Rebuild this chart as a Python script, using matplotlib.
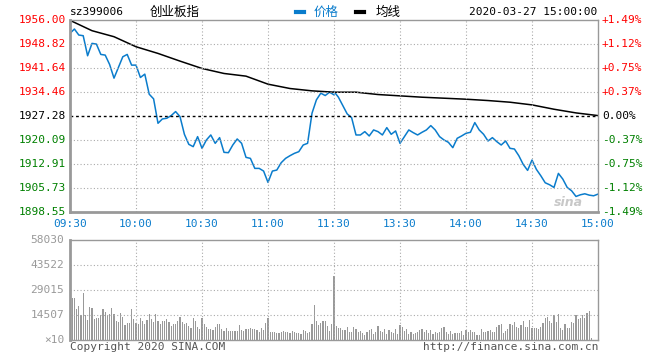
import numpy as np
import matplotlib.pyplot as plt

plt.rcParams['font.family'] = ['DejaVu Sans Mono', 'Noto Sans CJK SC']

# price sampled every 2 minutes (0 = 09:30, 120 = 11:30/13:00, 240 = 15:00)
price_am = [1952.0, 1953.3, 1951.5, 1951.3, 1945.3, 1949.0, 1948.8, 1945.7, 1945.5, 1942.7,
            1938.6, 1941.8, 1945.0, 1945.7, 1942.5, 1942.5, 1938.8, 1939.8, 1933.8, 1932.4,
            1925.1, 1926.4, 1926.6, 1927.4, 1928.6, 1927.1, 1921.8, 1918.8, 1918.1, 1921.1,
            1917.6, 1920.1, 1921.6, 1919.1, 1920.8, 1916.4, 1916.3, 1918.6, 1920.4, 1919.1,
            1914.9, 1914.6, 1911.6, 1911.6, 1910.8, 1907.4, 1910.8, 1911.1, 1913.3, 1914.6,
            1915.4, 1916.1, 1916.6, 1918.6, 1919.1, 1928.1, 1932.1, 1934.1, 1933.4, 1934.4,
            1933.6]
# afternoon from 13:00
price_pm = [1934.6,
            1932.9, 1930.4, 1927.9, 1926.8, 1921.6, 1921.6, 1922.6, 1921.3, 1923.1, 1922.6,
            1921.6, 1923.8, 1921.8, 1922.8, 1919.1, 1921.1, 1923.1, 1922.3, 1921.6, 1922.4,
            1923.1, 1924.4, 1923.1, 1921.1, 1920.1, 1919.4, 1917.8, 1920.6, 1921.3, 1922.1,
            1922.4, 1925.3, 1923.1, 1921.8, 1919.8, 1920.8, 1919.6, 1918.6, 1919.8, 1917.6,
            1917.4, 1915.4, 1912.8, 1911.0, 1914.1, 1911.3, 1909.4, 1907.3, 1906.7, 1905.9,
            1910.1, 1908.4, 1905.9, 1904.9, 1903.2, 1903.7, 1904.0, 1903.6, 1903.4, 1903.9]

# average line, every 10 minutes
avg_line = [1955.9, 1952.8, 1951.0, 1948.0, 1946.0, 1943.7, 1941.5, 1940.0, 1939.2, 1936.8,
            1935.5, 1934.8, 1934.4, 1934.4, 1933.7, 1933.3, 1932.9, 1932.6, 1932.3, 1931.9,
            1931.4, 1930.6, 1929.3, 1928.2, 1927.4]

# volume per minute (x10)
volume = [30400, 24600, 24600, 18000, 19700, 14500, 27300, 14500, 11600, 19200,
          18500, 12200, 12800, 12800, 14500, 18000, 16500, 14500, 15000, 18500,
          15000, 11000, 10500, 15500, 13500, 8800, 10000, 10000, 18000, 12000,
          10000, 9000, 12500, 11000, 9000, 11500, 15000, 12000, 10500, 15000,
          11000, 9000, 11000, 11000, 12000, 10500, 8000, 9000, 9500, 11000,
          13500, 10500, 9000, 10000, 8000, 7000, 13000, 11000, 7500, 6500,
          12500, 9000, 7500, 6500, 6500, 6000, 7500, 9500, 9000, 6500,
          5500, 7000, 5000, 5000, 5000, 5500, 5500, 8500, 6000, 5500,
          6500, 6500, 7000, 6500, 6500, 6000, 4500, 7000, 6000, 10000,
          12900, 4500, 4500, 4500, 4000, 4000, 4500, 5000, 4500, 4500,
          4000, 5500, 4500, 4000, 4000, 3500, 6000, 5000, 4000, 4500,
          9500, 20500, 11000, 8500, 10000, 11000, 11000, 8000, 5000, 9000,
          37300,
          8300, 7200, 6800, 5800, 5800, 7500, 4800, 4400, 7700, 6400,
          4400, 5200, 3900, 2900, 4800, 6000, 6400, 3300, 4800, 8100,
          5200, 4400, 6400, 3300, 5600, 4800, 3900, 6200, 3300, 8700,
          7700, 5200, 6200, 3300, 4400, 3700, 3900, 4400, 5600, 6200,
          4800, 5600, 4200, 5800, 3700, 4800, 4200, 4800, 7200, 7500,
          4800, 3700, 5200, 3300, 3900, 3900, 3900, 5200, 2900, 5600,
          4400, 5600, 4800, 4800, 2900, 2900, 6400, 4800, 4800, 5200,
          5800, 4400, 4400, 7700, 8700, 9100, 3900, 5200, 6200, 9100,
          8700, 10600, 7700, 7200, 8700, 11000, 7700, 7700, 11600, 6800,
          7200, 6800, 6400, 7700, 9700, 12600, 13500, 11000, 9700, 14500,
          10600, 15100, 6800, 5800, 9100, 7200, 7200, 10600, 9700, 14500,
          12200, 12600, 14500, 12600, 15500, 16800, 1000, 0, 0, 0]

time_labels = ['09:30', '10:00', '10:30', '11:00', '11:30', '13:30', '14:00', '14:30', '15:00']
price_ticks = [1956.00, 1948.82, 1941.64, 1934.46, 1927.28, 1920.09, 1912.91, 1905.73, 1898.55]
pct_labels = ['+1.49%', '+1.12%', '+0.75%', '+0.37%', '0.00%',
              '-0.37%', '-0.75%', '-1.12%', '-1.49%']
vol_ticks = [58030, 43522, 29015, 14507]
prev_close = 1927.28

W, H = 660, 360
BLUE = '#0a7ccc'
RED = '#ff0000'
GREEN = '#008000'
GRAY = '#999999'
CJK = ['Noto Sans CJK SC', 'DejaVu Sans']


def fx(px):
    return px / W


def fy(py):
    return 1 - py / H


fig = plt.figure(figsize=(6.6, 3.6), dpi=100)
ax = fig.add_axes([fx(70), fy(212), 528 / W, 192 / H])
axv = fig.add_axes([fx(70), fy(340), 528 / W, 100 / H])

ax.plot(np.arange(0, 121, 2), price_am, color=BLUE, lw=1.1)
ax.plot(np.arange(120, 241, 2), price_pm, color=BLUE, lw=1.1)
ax.plot(np.arange(0, 241, 10), avg_line, color='black', lw=1.1)
ax.axhline(prev_close, color='black', lw=1.0, ls=(0, (2, 2)))

ax.set_xlim(0, 240)
ax.set_ylim(price_ticks[-1], price_ticks[0])
for t in range(30, 240, 30):
    ax.axvline(t, color='#aaaaaa', lw=0.8, ls=(0, (1, 2)))
    axv.axvline(t, color='#aaaaaa', lw=0.8, ls=(0, (1, 2)))
for p in price_ticks[1:-1]:
    if p != prev_close:
        ax.axhline(p, color='#aaaaaa', lw=0.8, ls=(0, (1, 2)))
ax.set_xticks([])
ax.set_yticks([])

axv.bar(np.arange(len(volume)), volume, width=0.5, color=GRAY)
axv.set_xlim(0, 240)
axv.set_ylim(0, vol_ticks[0])
for v in vol_ticks[1:]:
    axv.axhline(v, color='#aaaaaa', lw=0.8, ls=(0, (1, 2)))
axv.set_xticks([])
axv.set_yticks([])

for a in (ax, axv):
    for s in a.spines.values():
        s.set_color(GRAY)
        s.set_linewidth(1.0)
    a.spines['left'].set_linewidth(2.0)
ax.spines['bottom'].set_linewidth(2.0)

fs = 8
for i, p in enumerate(price_ticks):
    c = RED if p > prev_close else ('black' if p == prev_close else GREEN)
    y = 20 + i * 24
    fig.text(fx(66), fy(y), '%.2f' % p, color=c, ha='right', va='center', fontsize=fs)
    fig.text(fx(602), fy(y), pct_labels[i], color=c, ha='left', va='center', fontsize=fs)

for i, lab in enumerate(time_labels):
    fig.text(fx(70 + i * 66), fy(224), lab, color=BLUE, ha='center', va='center', fontsize=fs)

for i, v in enumerate(vol_ticks):
    fig.text(fx(64), fy(240 + i * 25), str(v), color=GRAY, ha='right', va='center', fontsize=fs)
fig.text(fx(64), fy(340), '\u00d710', color=GRAY, ha='right', va='center', fontsize=fs)

fig.text(fx(70), fy(347), 'Copyright 2020 SINA.COM', color='#555555', ha='left', va='center', fontsize=fs)
fig.text(fx(598), fy(347), 'http://finance.sina.com.cn', color='#555555', ha='right', va='center', fontsize=fs)

fig.text(fx(70), fy(12), 'sz399006', color='black', ha='left', va='center', fontsize=fs)
fig.text(fx(175), fy(12), '创业板指', color='black', ha='center', va='center', fontsize=9, family=CJK)
fig.lines.append(plt.Line2D([fx(296), fx(304)], [fy(12), fy(12)], color=BLUE, lw=3,
                            transform=fig.transFigure))
fig.text(fx(314), fy(12), '价格', color=BLUE, ha='left', va='center', fontsize=9, family=CJK)
fig.lines.append(plt.Line2D([fx(356), fx(364)], [fy(12), fy(12)], color='black', lw=3,
                            transform=fig.transFigure))
fig.text(fx(376), fy(12), '均线', color='black', ha='left', va='center', fontsize=9, family=CJK)
fig.text(fx(597), fy(12), '2020-03-27 15:00:00', color='black', ha='right', va='center', fontsize=fs)

# faint sina watermark
fig.text(fx(568), fy(202), 'sina', color='#bbbbbb', ha='center', va='center', fontsize=9,
         style='italic', fontweight='bold', family='DejaVu Sans', alpha=0.8)

fig.savefig('out.png', dpi=100)
